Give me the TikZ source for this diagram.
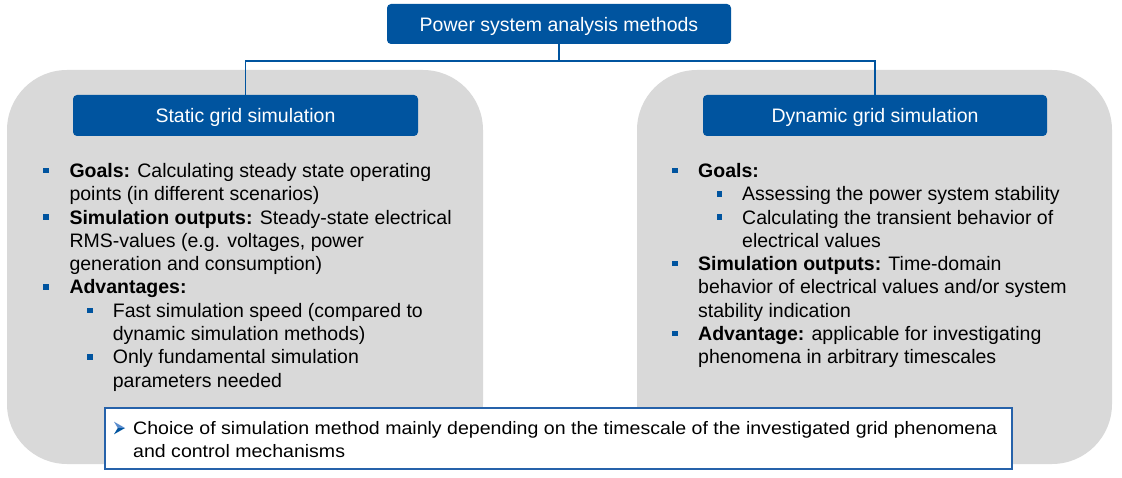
\documentclass[tikz,border=0pt]{standalone}
\usepackage{fontspec}
\setmainfont{Liberation Sans}
\definecolor{mainblue}{RGB}{0,84,159}
\definecolor{lightblue}{RGB}{90,140,205}
\definecolor{panelgray}{RGB}{217,217,217}
\definecolor{frameblue}{RGB}{38,98,170}
\newlength\chw
\begin{document}
\settowidth\chw{\fontsize{18}{23}\selectfont Choice of simulation method mainly depending on the timescale of the investigated grid phenomena}%
\begin{tikzpicture}[x=1pt,y=-1pt,
  panel/.style={fill=panelgray, rounded corners=60pt},
  head/.style={fill=mainblue, text=white, rounded corners=4pt, inner sep=0pt,
    text height=15pt, text depth=0pt, font=\fontsize{19.5}{23}\selectfont},
  ln/.style={anchor=base west, inner sep=0pt, font=\fontsize{19.5}{23}\selectfont, text=black},
  bl/.style={anchor=base west, inner sep=0pt, font=\fontsize{18}{23}\selectfont, text=black},
  sq/.style={fill=mainblue, minimum size=5.5pt, inner sep=0pt},
  conn/.style={draw=mainblue, line width=1.6pt}]
\useasboundingbox (0,0) rectangle (1122,478);
% panels
\fill[panel] (7,70) rectangle (483,464);
\fill[panel] (637,70) rectangle (1112,464);
% headers
\node[head, minimum width=344pt, minimum height=40pt] (top) at (559,24) {Power system analysis methods};
\node[head, minimum width=345pt, minimum height=41pt] (stat) at (245.5,115.5) {Static grid simulation};
\node[head, minimum width=344pt, minimum height=41pt] (dyn) at (875,115.5) {Dynamic grid simulation};
\coordinate (junc) at (559,61);
\draw[conn] (top.south) -- (junc) -| (stat.north);
\draw[conn] (junc) -| (dyn.north);
% left panel
\node[sq] (lb1) at (46,170.5) {};
\node[ln] (l1) at (69.3,177.5) {\textbf{Goals:} Calculating steady state operating};
\node[ln] (l2) at (69.3,200.8) {points (in different scenarios)};
\node[sq] (lb2) at (46,217) {};
\node[ln] (l3) at (69.3,224.1) {\textbf{Simulation outputs:} Steady-state electrical};
\node[ln] (l4) at (69.3,247.4) {RMS-values (e.g. voltages, power};
\node[ln] (l5) at (69.3,270.7) {generation and consumption)};
\node[sq] (lb3) at (46,287) {};
\node[ln] (l6) at (69.3,294) {\textbf{Advantages:}};
\node[sq] (lb4) at (90,310.3) {};
\node[ln] (l7) at (112.7,317.3) {Fast simulation speed (compared to};
\node[ln] (l8) at (112.7,340.6) {dynamic simulation methods)};
\node[sq] (lb5) at (90,356.9) {};
\node[ln] (l9) at (112.7,363.9) {Only fundamental simulation};
\node[ln] (l10) at (112.7,387.2) {parameters needed};
% right panel
\node[sq] (rb1) at (675,170.5) {};
\node[ln] (r1) at (698,177.5) {\textbf{Goals:}};
\node[sq] (rb2) at (719.5,193.8) {};
\node[ln] (r2) at (742,200.8) {Assessing the power system stability};
\node[sq] (rb3) at (719.5,217.1) {};
\node[ln] (r3) at (742,224.1) {Calculating the transient behavior of};
\node[ln] (r4) at (742,247.4) {electrical values};
\node[sq] (rb4) at (675,263.7) {};
\node[ln] (r5) at (698,270.7) {\textbf{Simulation outputs:} Time-domain};
\node[ln] (r6) at (698,294) {behavior of electrical values and/or system};
\node[ln] (r7) at (698,317.3) {stability indication};
\node[sq] (rb5) at (675,333.6) {};
\node[ln] (r8) at (698,340.6) {\textbf{Advantage:} applicable for investigating};
\node[ln] (r9) at (698,363.9) {phenomena in arbitrary timescales};
% bottom box
\node[draw=frameblue, fill=white, line width=1.3pt, minimum width=907pt, minimum height=61pt, inner sep=0pt] (bot) at (558.5,438.5) {};
\pgfmathsetmacro\chs{864/\chw}
% arrowhead bullet
\fill[lightblue] (114,421.7) -- (125,428) -- (117.8,428) -- cycle;
\fill[mainblue] (117.8,428) -- (125,428) -- (114,434.3) -- cycle;
\node[bl] (b1) at (133,434) {\scalebox{\chs}[1]{Choice of simulation method mainly depending on the timescale of the investigated grid phenomena}};
\node[bl] (b2) at (133,457.6) {\scalebox{\chs}[1]{and control mechanisms}};
\end{tikzpicture}
\end{document}
